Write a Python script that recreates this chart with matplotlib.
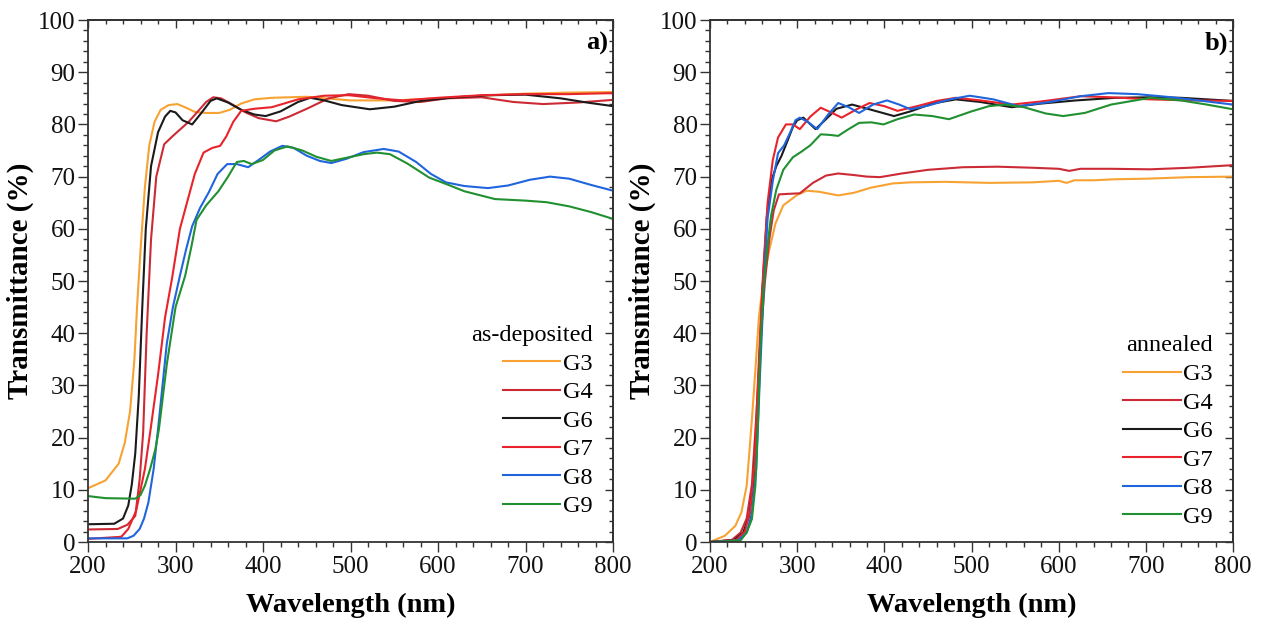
import matplotlib
matplotlib.use("Agg")
import matplotlib.pyplot as plt
from matplotlib.ticker import MultipleLocator, NullFormatter

plt.rcParams['font.family'] = ['Liberation Serif', 'DejaVu Serif']

# ---------------- panel a : as-deposited ----------------
wl_G3a = [200, 220, 235, 242, 248, 253, 256, 260, 265, 270, 276, 283, 292, 302, 312, 322, 335, 350, 362, 375, 390, 410, 450, 500, 550, 600, 650, 700, 750, 800]
T_G3a = [10.3, 11.8, 15, 19, 25, 35, 45, 56, 68, 76, 80.5, 82.8, 83.7, 83.9, 83.2, 82.4, 82.2, 82.2, 82.8, 84, 84.8, 85.1, 85.3, 84.6, 84.6, 85, 85.5, 85.9, 86.1, 86.2]

wl_G4a = [200, 234, 245, 254, 259, 263, 267, 272, 278, 287, 297, 305, 315, 324, 335, 343, 352, 365, 380, 395, 415, 430, 450, 475, 498, 520, 550, 580, 610, 650, 686, 720, 760, 800]
T_G4a = [2.4, 2.5, 3.3, 5, 12, 21, 40, 58, 70, 76.2, 77.8, 79, 80.5, 82.2, 84.3, 85.2, 85.0, 83.8, 82.3, 81.2, 80.6, 81.5, 83.0, 85.0, 85.8, 85.5, 84.5, 84.3, 85.0, 85.2, 84.3, 83.9, 84.2, 84.7]

wl_G6a = [200, 230, 240, 246, 250, 254, 258, 262, 266, 272, 280, 288, 294, 300, 308, 319, 330, 340, 347, 360, 375, 390, 403, 420, 440, 454, 470, 490, 522, 550, 580, 620, 660, 700, 740, 770, 800]
T_G6a = [3.4, 3.5, 4.5, 7, 11, 17, 28, 45, 60, 72, 78.5, 81.5, 82.6, 82.3, 80.8, 80.0, 82.3, 84.5, 85.0, 84.2, 82.8, 81.9, 81.6, 82.5, 84.3, 85.1, 84.6, 83.7, 82.9, 83.4, 84.5, 85.2, 85.6, 85.7, 85.0, 84.2, 83.5]

wl_G7a = [200, 238, 246, 255, 265, 271, 280, 288, 296, 305, 315, 322, 332, 342, 351, 358, 366, 375, 390, 410, 440, 470, 498, 530, 560, 600, 650, 700, 750, 800]
T_G7a = [0.6, 1.0, 2.5, 6, 14, 21, 32, 43, 50.5, 60, 66.2, 70.5, 74.6, 75.5, 75.9, 77.7, 80.5, 82.6, 83, 83.3, 84.8, 85.5, 85.6, 85, 84.6, 85.1, 85.6, 85.8, 85.8, 86]

wl_G8a = [200, 245, 252, 259, 264, 269, 275, 280, 290, 297, 305, 312, 319, 328, 338, 348, 359, 370, 383, 395, 408, 422, 435, 450, 465, 478, 495, 515, 538, 555, 575, 592, 609, 630, 657, 680, 705, 728, 750, 775, 800]
T_G8a = [0.7, 0.7, 1.2, 2.5, 4.5, 7.6, 14, 21.6, 38, 45, 51, 56, 60.5, 64, 67, 70.5, 72.4, 72.4, 71.8, 73.2, 74.8, 75.9, 75.5, 74.0, 73.0, 72.6, 73.4, 74.7, 75.3, 74.8, 72.8, 70.5, 68.9, 68.2, 67.8, 68.3, 69.4, 70.0, 69.6, 68.4, 67.3]

wl_G9a = [200, 220, 254, 260, 265, 271, 277, 281, 290, 300, 311, 318, 324, 335, 349, 360, 370, 378, 387, 400, 413, 428, 445, 461, 478, 495, 515, 530, 545, 565, 590, 609, 630, 665, 700, 724, 750, 775, 800]
T_G9a = [8.8, 8.4, 8.3, 9.0, 10.8, 14, 17.8, 21.6, 34, 45, 51, 56.5, 61.7, 64.5, 67.2, 70, 72.8, 73.0, 72.4, 73.2, 75.0, 75.8, 75.0, 73.8, 73.0, 73.6, 74.3, 74.6, 74.3, 72.5, 69.8, 68.6, 67.2, 65.7, 65.4, 65.1, 64.3, 63.2, 61.9]

# ---------------- panel b : annealed ----------------
wl_G3b = [200, 217, 229, 236, 242, 245, 248, 252, 256, 261, 268, 275, 284, 292, 300, 311, 325, 347, 365, 385, 410, 430, 470, 520, 570, 600, 609, 618, 640, 665, 700, 750, 800]
T_G3b = [0, 1.2, 3.1, 5.7, 10.8, 17, 23.5, 33, 43, 50, 56, 61, 64.5, 65.5, 66.5, 67.3, 67.1, 66.4, 66.9, 67.9, 68.7, 68.9, 69.0, 68.8, 68.9, 69.2, 68.8, 69.3, 69.3, 69.5, 69.6, 69.9, 70.0]

wl_G4b = [200, 225, 235, 242, 248, 253, 258, 263, 268, 273, 279, 290, 303, 318, 333, 347, 365, 380, 395, 420, 450, 490, 530, 570, 600, 612, 625, 660, 705, 750, 800]
T_G4b = [0, 0.4, 1.8, 4.5, 11, 24, 39, 50, 58, 63.5, 66.6, 66.7, 66.8, 68.8, 70.2, 70.6, 70.3, 70.0, 69.9, 70.6, 71.3, 71.8, 71.9, 71.7, 71.5, 71.1, 71.5, 71.5, 71.4, 71.7, 72.2]

wl_G6b = [200, 228, 238, 245, 250, 255, 260, 265, 270, 276, 282, 288, 295, 300, 307, 314, 321, 333, 345, 363, 385, 411, 430, 455, 482, 510, 546, 580, 620, 665, 705, 740, 770, 800]
T_G6b = [0, 0.4, 1.8, 5, 12, 28, 48, 62, 69, 72, 74, 76.5, 79.5, 80.8, 81.3, 80.2, 79.1, 81, 83, 83.8, 82.8, 81.6, 82.5, 84, 84.8, 84.3, 83.3, 84, 84.6, 85.1, 85.2, 85.1, 84.8, 84.5]

wl_G7b = [200, 230, 240, 246, 251, 256, 261, 266, 272, 278, 287, 295, 303, 315, 327, 340, 351, 367, 383, 400, 415, 440, 460, 482, 510, 546, 580, 625, 660, 705, 750, 800]
T_G7b = [0, 0.4, 2, 6, 15, 35, 52, 65, 73.2, 77.5, 80, 80, 79.1, 81.5, 83.2, 82.2, 81.3, 82.8, 84.1, 83.5, 82.6, 83.6, 84.5, 85.1, 84.6, 83.8, 84.4, 85.4, 85.2, 84.8, 84.6, 84.5]

wl_G8b = [200, 232, 242, 248, 253, 257, 262, 266, 272, 278, 285, 292, 298, 303, 312, 323, 335, 347, 359, 371, 387, 403, 417, 430, 450, 475, 498, 525, 554, 590, 625, 657, 690, 730, 770, 800]
T_G8b = [0, 0.3, 1.8, 5.5, 14, 31, 50, 62, 69.2, 74.5, 76, 78.5, 80.8, 81.3, 80.5, 79.1, 81.8, 84.1, 83.3, 82.2, 83.8, 84.6, 83.8, 82.9, 83.6, 84.8, 85.5, 84.8, 83.5, 84.3, 85.4, 86, 85.8, 85.2, 84.4, 83.8]

wl_G9b = [200, 235, 242, 248, 252, 255, 258, 262, 266, 270, 276, 284, 295, 305, 315, 327, 337, 347, 358, 371, 385, 399, 415, 434, 455, 474, 500, 520, 538, 560, 585, 605, 630, 660, 705, 740, 770, 800]
T_G9b = [0, 0.3, 1.8, 4.4, 10.8, 23, 38, 50, 57, 62.5, 67.5, 71.3, 73.7, 74.8, 76, 78.1, 78.0, 77.8, 79.0, 80.3, 80.4, 80.0, 81.0, 81.9, 81.6, 81.0, 82.5, 83.5, 83.8, 83.3, 82.1, 81.6, 82.2, 83.8, 85.1, 84.6, 83.8, 82.9]

labels = ["G3", "G4", "G6", "G7", "G8", "G9"]
colors = ["#f7a233", "#cc2b36", "#1a1a1a", "#e8232b", "#2065dd", "#209030"]

series_a = [(wl_G3a, T_G3a), (wl_G4a, T_G4a), (wl_G6a, T_G6a),
            (wl_G7a, T_G7a), (wl_G8a, T_G8a), (wl_G9a, T_G9a)]
series_b = [(wl_G3b, T_G3b), (wl_G4b, T_G4b), (wl_G6b, T_G6b),
            (wl_G7b, T_G7b), (wl_G8b, T_G8b), (wl_G9b, T_G9b)]

fig = plt.figure(figsize=(12.63, 6.2), dpi=100)
ax_a = fig.add_axes([0.0697, 0.1258, 0.4157, 0.8419])
ax_b = fig.add_axes([0.5622, 0.1258, 0.4141, 0.8419])

spine_col = "#333333"
panels = [(ax_a, series_a, "as-deposited", "a)", 0.040),
          (ax_b, series_b, "annealed", "b)", 0.020)]
for ax, series, title, tag, ly in panels:
    for (x, y), lab, c in zip(series, labels, colors):
        ax.plot(x, y, color=c, lw=1.5, label=lab)
    ax.set_xlim(200, 800)
    ax.set_ylim(0, 100)
    ax.xaxis.set_major_locator(MultipleLocator(100))
    ax.xaxis.set_minor_locator(MultipleLocator(20))
    ax.yaxis.set_major_locator(MultipleLocator(10))
    ax.yaxis.set_minor_locator(MultipleLocator(2))
    ax.tick_params(which='both', direction='out', colors=spine_col,
                   labelcolor='#111111', labelsize=18, width=1.0)
    ax.tick_params(which='major', length=7)
    ax.tick_params(which='minor', length=3.5)
    ax.tick_params(axis='x', which='major', pad=3)
    ax.tick_params(axis='y', which='major', pad=2)
    # inward ticks on top and right
    top = ax.secondary_xaxis('top')
    top.xaxis.set_major_locator(MultipleLocator(100))
    top.xaxis.set_minor_locator(MultipleLocator(20))
    top.xaxis.set_major_formatter(NullFormatter())
    top.tick_params(which='both', direction='in', colors=spine_col, width=1.0)
    top.tick_params(which='major', length=6)
    top.tick_params(which='minor', length=3)
    right = ax.secondary_yaxis('right')
    right.yaxis.set_major_locator(MultipleLocator(10))
    right.yaxis.set_minor_locator(MultipleLocator(2))
    right.yaxis.set_major_formatter(NullFormatter())
    right.tick_params(which='both', direction='in', colors=spine_col, width=1.0)
    right.tick_params(which='major', length=6)
    right.tick_params(which='minor', length=3)
    for sax in (ax, top, right):
        for s in sax.spines.values():
            s.set_color(spine_col)
            s.set_linewidth(1.3)
    ax.set_xlabel("Wavelength (nm)", fontsize=20.5, fontweight='bold', labelpad=11)
    ax.set_ylabel("Transmittance (%)", fontsize=21, fontweight='bold', labelpad=3)
    ax.text(0.99, 0.977, tag, transform=ax.transAxes, ha='right', va='top',
            fontsize=19, fontweight='bold')
    ax.legend(loc='lower right', bbox_to_anchor=(0.969, ly), frameon=False,
              title=title, title_fontsize=17.5, fontsize=17.5, handlelength=2.35,
              handletextpad=0.12, labelspacing=0.27, borderaxespad=0.0,
              borderpad=0.15, alignment='right')

fig.savefig("out.png", dpi=100, facecolor='white')
